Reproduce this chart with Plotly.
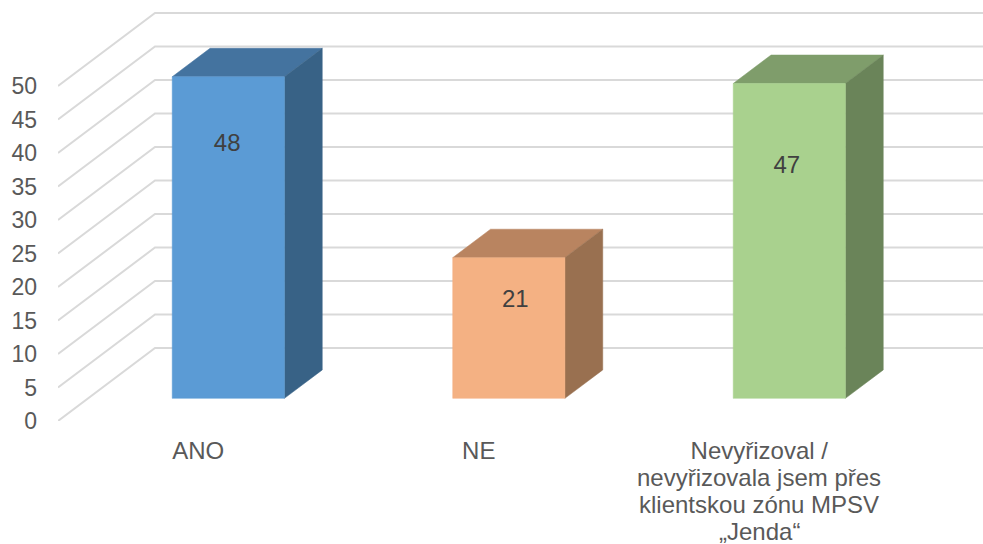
import plotly.graph_objects as go

# --- data ---
categories = ["ANO", "NE", "Nevyřizoval /"]
category_extra_lines = ["nevyřizovala jsem přes", "klientskou zónu MPSV", "„Jenda“"]
values = [48, 21, 47]
y_ticks = [0, 5, 10, 15, 20, 25, 30, 35, 40, 45, 50]

# --- style ---
front_colors = ["#5B9BD5", "#F4B183", "#A9D18E"]
top_colors = ["#44739F", "#B98460", "#7F9D6B"]
side_colors = ["#386286", "#997050", "#6A8459"]
GRID = "#D9D9D9"
AXIS_TEXT = "#595959"
LABEL_TEXT = "#404040"
FONT = "Liberation Sans"
FS = 24

# --- geometry (oblique projection of the 3-D chart) ---
W, H = 983, 544
ML, MB = 58, 123
PX_PER_CAT, PX_PER_UNIT = 280.5, 6.7
DX = 97 / PX_PER_CAT      # wall depth in category units
DY = 73 / PX_PER_UNIT     # wall depth in value units
D_FRONT, D_BACK = 0.31, 0.70
BAR_L, BAR_R = 0.30, 0.70
label_height = [37.8, 14.5, 34.5]
label_offset = [-0.004, 0.023, -0.009]


def proj(cat, val, depth):
    return cat + depth * DX, val + depth * DY


def poly(points, color, width=0.5):
    xs, ys = zip(*(proj(*p) for p in points + points[:1]))
    return go.Scatter(x=xs, y=ys, mode="lines", fill="toself", fillcolor=color,
                      line=dict(color=color, width=width), hoverinfo="skip", showlegend=False)


fig = go.Figure()
x_max = (W - ML) / PX_PER_CAT

for t in y_ticks:
    xs = [proj(0, t, 0)[0], proj(0, t, 1)[0], x_max]
    ys = [proj(0, t, 0)[1], proj(0, t, 1)[1], proj(0, t, 1)[1]]
    fig.add_trace(go.Scatter(x=xs, y=ys, mode="lines", line=dict(color=GRID, width=2),
                             hoverinfo="skip", showlegend=False))

for i, v in enumerate(values):
    l, r = i + BAR_L, i + BAR_R
    fig.add_trace(poly([(l, v, D_FRONT), (r, v, D_FRONT), (r, v, D_BACK), (l, v, D_BACK)], top_colors[i]))
    fig.add_trace(poly([(r, 0, D_FRONT), (r, 0, D_BACK), (r, v, D_BACK), (r, v, D_FRONT)], side_colors[i]))
    fig.add_trace(poly([(l, 0, D_FRONT), (r, 0, D_FRONT), (r, v, D_FRONT), (l, v, D_FRONT)], front_colors[i]))
    lx, ly = proj(i + 0.5 + label_offset[i], label_height[i], D_FRONT)
    fig.add_trace(go.Scatter(x=[lx], y=[ly], mode="text", text=[str(v)],
                             textposition="middle center",
                             textfont=dict(family=FONT, size=FS, color=LABEL_TEXT),
                             hoverinfo="skip", showlegend=False))

annotations = [
    dict(x=2.5, y=0, xref="x", yref="y", text=line, showarrow=False,
         xanchor="center", yanchor="middle", yshift=-(29 + 27.3 * (n + 1)),
         font=dict(family=FONT, size=FS, color=AXIS_TEXT))
    for n, line in enumerate(category_extra_lines)
]

fig.update_layout(
    width=W, height=H, autosize=False,
    margin=dict(l=ML, r=0, t=0, b=MB, pad=0),
    paper_bgcolor="white", plot_bgcolor="white",
    showlegend=False, annotations=annotations,
    xaxis=dict(range=[0, x_max], tickmode="array",
               tickvals=[i + 0.5 for i in range(len(categories))], ticktext=categories,
               showgrid=False, zeroline=False, showline=False, ticks="",
               ticklabelstandoff=13, tickangle=0,
               tickfont=dict(family=FONT, size=FS, color=AXIS_TEXT)),
    yaxis=dict(range=[0, (H - MB) / PX_PER_UNIT], tickmode="array",
               tickvals=y_ticks, showgrid=False, zeroline=False, showline=False, ticks="",
               ticklabelstandoff=20,
               tickfont=dict(family=FONT, size=23, color=AXIS_TEXT)),
)

fig.write_html("out.html", config=dict(displayModeBar=False),
               post_script="document.body.style.margin='0';document.documentElement.style.overflow='hidden';")
